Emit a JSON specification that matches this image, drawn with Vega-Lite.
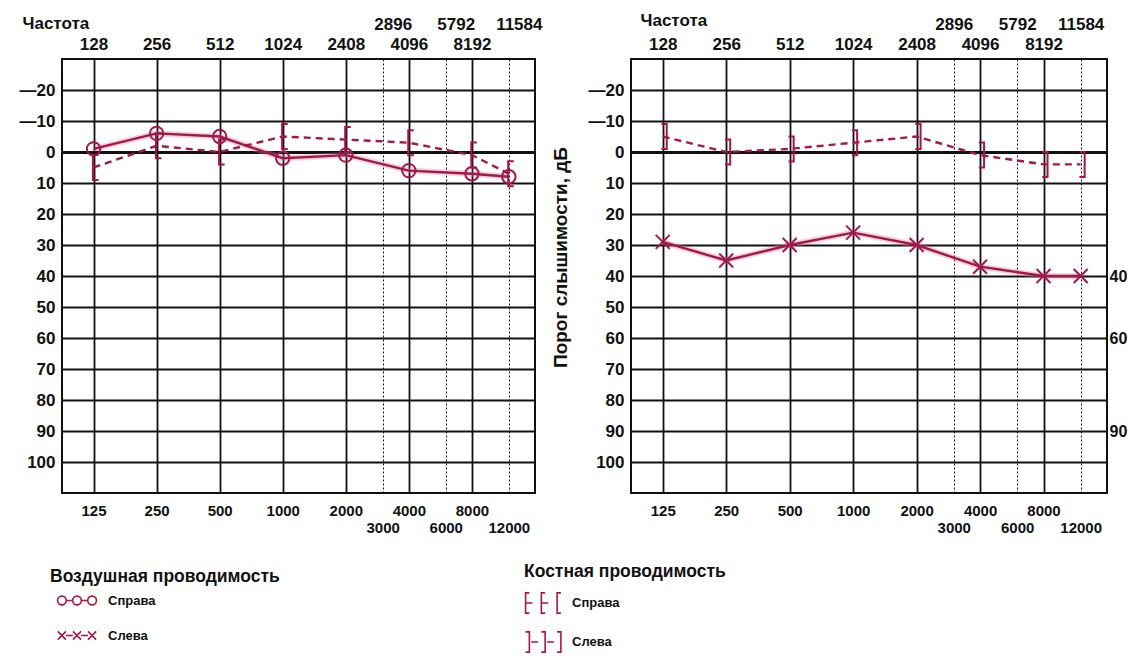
{
  "$schema": "https://vega.github.io/schema/vega-lite/v6.json",
  "description": "Аудиограмма: воздушная и костная проводимость, правое и левое ухо.",
  "background": "white",
  "padding": {"left": 18, "top": 10, "right": 0, "bottom": 0},
  "bounds": "flush",
  "spacing": 96,
  "config": {
    "view": {"stroke": "#111", "strokeWidth": 2},
    "font": "Liberation Sans",
    "axis": {"labelFont": "Liberation Sans", "labelFontWeight": "bold", "labelColor": "#111", "titleFont": "Liberation Sans", "titleColor": "#111"},
    "legend": {"titleFont": "Liberation Sans", "labelFont": "Liberation Sans", "titleColor": "#111", "labelColor": "#111", "titleLimit": 400}
  },
  "datasets": {
    "air": [
      {"side": "Справа", "freq": 125, "db": -1},
      {"side": "Справа", "freq": 250, "db": -6},
      {"side": "Справа", "freq": 500, "db": -5},
      {"side": "Справа", "freq": 1000, "db": 2},
      {"side": "Справа", "freq": 2000, "db": 1},
      {"side": "Справа", "freq": 4000, "db": 6},
      {"side": "Справа", "freq": 8000, "db": 7},
      {"side": "Справа", "freq": 12000, "db": 8},
      {"side": "Слева", "freq": 125, "db": 29},
      {"side": "Слева", "freq": 250, "db": 35},
      {"side": "Слева", "freq": 500, "db": 30},
      {"side": "Слева", "freq": 1000, "db": 26},
      {"side": "Слева", "freq": 2000, "db": 30},
      {"side": "Слева", "freq": 4000, "db": 37},
      {"side": "Слева", "freq": 8000, "db": 40},
      {"side": "Слева", "freq": 12000, "db": 40}
    ],
    "bone": [
      {"ear": "Справа", "freq": 125, "db": 5},
      {"ear": "Справа", "freq": 250, "db": -2},
      {"ear": "Справа", "freq": 500, "db": 0},
      {"ear": "Справа", "freq": 1000, "db": -5},
      {"ear": "Справа", "freq": 2000, "db": -4},
      {"ear": "Справа", "freq": 4000, "db": -3},
      {"ear": "Справа", "freq": 8000, "db": 1},
      {"ear": "Справа", "freq": 12000, "db": 7},
      {"ear": "Слева", "freq": 125, "db": -5},
      {"ear": "Слева", "freq": 250, "db": 0},
      {"ear": "Слева", "freq": 500, "db": -1},
      {"ear": "Слева", "freq": 1000, "db": -3},
      {"ear": "Слева", "freq": 2000, "db": -5},
      {"ear": "Слева", "freq": 4000, "db": 1},
      {"ear": "Слева", "freq": 8000, "db": 4},
      {"ear": "Слева", "freq": 12000, "db": 4}
    ]
  },
  "hconcat": [
    {
      "width": 473,
      "height": 434,
      "layer": [
        {
          "data": {"name": "air"},
          "transform": [{"filter": "datum.side == 'Справа'"}],
          "encoding": {
            "x": {
              "field": "freq", "type": "quantitative",
              "scale": {"type": "log", "domain": [88.39, 16000], "nice": false},
              "axis": {
                "orient": "bottom", "title": null,
                "values": [125, 250, 500, 1000, 2000, 3000, 4000, 6000, 8000, 12000],
                "format": "d", "labelOverlap": false, "labelFlush": false,
                "ticks": false, "domain": false, "labelFontSize": 15,
                "labelPadding": {"condition": {"test": "datum.value == 3000 || datum.value == 6000 || datum.value == 12000", "value": 27}, "value": 10},
                "grid": true, "gridColor": "#111",
                "gridWidth": {"condition": {"test": "datum.value == 3000 || datum.value == 6000 || datum.value == 12000", "value": 1}, "value": 1.8},
                "gridDash": {"condition": {"test": "datum.value == 3000 || datum.value == 6000 || datum.value == 12000", "value": [2, 2]}, "value": []}
              }
            },
            "y": {
              "field": "db", "type": "quantitative",
              "scale": {"domain": [-30, 110], "reverse": true, "nice": false, "zero": false},
              "axis": {
                "values": [-20, -10, 0, 10, 20, 30, 40, 50, 60, 70, 80, 90, 100],
                "title": null, "ticks": false, "domain": false, "labelFontSize": 17, "labelPadding": 7,
                "labelExpr": "datum.value < 0 ? '—' + (-datum.value) : '' + datum.value",
                "grid": true, "gridColor": "#111",
                "gridWidth": {"condition": {"test": "datum.value == 0", "value": 3}, "value": 1.8}
              }
            }
          },
          "layer": [
            {"mark": {"type": "line", "color": "#e07d9c", "strokeWidth": 6, "opacity": 0.35}},
            {"mark": {"type": "line", "color": "#a5174a", "strokeWidth": 2.4}},
            {"mark": {"type": "point", "filled": false, "color": "#a5174a", "strokeWidth": 2, "size": 180, "opacity": 1, "shape": "circle"}}
          ]
        },
        {
          "data": {"name": "bone"},
          "transform": [{"filter": "datum.ear == 'Справа'"}],
          "encoding": {
            "x": {
              "field": "freq", "type": "quantitative",
              "scale": {"type": "log", "domain": [88.39, 16000], "nice": false},
              "axis": {
                "orient": "top", "title": "Частота", "titleFontSize": 17, "titleFontWeight": "bold",
                "titleAnchor": "start", "titleAlign": "left", "titleAngle": 0, "titleBaseline": "middle",
                "titleX": -40, "titleY": -36,
                "values": [125, 250, 500, 1000, 2000, 3000, 4000, 6000, 8000, 12000],
                "labelExpr": "datum.value == 125 ? '128' : datum.value == 250 ? '256' : datum.value == 500 ? '512' : datum.value == 1000 ? '1024' : datum.value == 2000 ? '2408' : datum.value == 3000 ? '2896' : datum.value == 4000 ? '4096' : datum.value == 6000 ? '5792' : datum.value == 8000 ? '8192' : '11584'",
                "labelOverlap": false, "labelFlush": false, "ticks": false, "domain": false, "grid": false,
                "labelFontSize": 17,
                "labelPadding": {"condition": {"test": "datum.value == 3000 || datum.value == 6000 || datum.value == 12000", "value": 26}, "value": 6},
                "labelOffset": {"condition": {"test": "datum.value == 3000 || datum.value == 6000 || datum.value == 12000", "value": 10}, "value": 0}
              }
            },
            "y": {
              "field": "db", "type": "quantitative",
              "scale": {"domain": [-30, 110], "reverse": true, "nice": false, "zero": false},
              "axis": null
            }
          },
          "layer": [
            {"mark": {"type": "line", "color": "#a5174a", "strokeWidth": 2.4, "strokeDash": [7, 5]}},
            {"mark": {"type": "point", "filled": false, "color": "#a5174a", "strokeWidth": 2, "size": 625, "opacity": 1, "shape": "M0.4,-1L-0.05,-1L-0.05,1L0.4,1"}}
          ]
        },
        {
          "data": {"name": "air"},
          "mark": {"type": "point", "filled": false, "color": "#a5174a", "opacity": 0},
          "encoding": {
            "x": {"field": "freq", "type": "quantitative", "axis": null},
            "y": {"field": "db", "type": "quantitative", "axis": null},
            "shape": {
              "field": "side", "type": "nominal",
              "scale": {
                "domain": ["Справа", "Слева"],
                "range": [
                  "M-1.85,0A0.75,0.75,0,1,1,-3.35,0A0.75,0.75,0,1,1,-1.85,0M-1.85,0L-0.75,0M0.75,0A0.75,0.75,0,1,1,-0.75,0A0.75,0.75,0,1,1,0.75,0M0.75,0L1.85,0M3.35,0A0.75,0.75,0,1,1,1.85,0A0.75,0.75,0,1,1,3.35,0",
                  "M-3.3,-0.7L-1.9,0.7M-3.3,0.7L-1.9,-0.7M-1.9,0L-0.7,0M-0.7,-0.7L0.7,0.7M-0.7,0.7L0.7,-0.7M0.7,0L1.9,0M1.9,-0.7L3.3,0.7M1.9,0.7L3.3,-0.7"
                ]
              },
              "legend": {
                "title": "Воздушная проводимость", "orient": "none", "legendX": -12, "legendY": 509,
                "titleFontSize": 17.5, "titleFontWeight": "bold", "titlePadding": 8,
                "labelFontSize": 13, "labelFontWeight": "bold", "labelOffset": 24,
                "symbolSize": 135, "symbolOffset": 20, "rowPadding": 19,
                "symbolOpacity": 1, "symbolStrokeColor": "#a5174a", "symbolFillColor": "transparent", "symbolStrokeWidth": 1.6
              }
            }
          }
        },
        {
          "data": {"name": "bone"},
          "mark": {"type": "point", "filled": false, "color": "#a5174a", "opacity": 0},
          "encoding": {
            "x": {"field": "freq", "type": "quantitative", "axis": null},
            "y": {"field": "db", "type": "quantitative", "axis": null},
            "shape": {
              "field": "ear", "type": "nominal",
              "scale": {
                "domain": ["Справа", "Слева"],
                "range": [
                  "M-2.4,-1.6L-3,-1.6L-3,1.6L-2.4,1.6M-3,0L-1.9,0M0.1,-1.6L-0.5,-1.6L-0.5,1.6L0.1,1.6M-0.5,0L0.6,0M2.6,-1.6L2,-1.6L2,1.6L2.6,1.6",
                  "M-3,-1.6L-2.4,-1.6L-2.4,1.6L-3,1.6M-2.1,0L-1.0,0M-0.5,-1.6L0.1,-1.6L0.1,1.6L-0.5,1.6M0.4,0L1.5,0M2,-1.6L2.6,-1.6L2.6,1.6L2,1.6"
                ]
              },
              "legend": {
                "title": "Костная  проводимость", "orient": "none", "legendX": 462, "legendY": 504,
                "titleFontSize": 17.5, "titleFontWeight": "bold", "titlePadding": 15,
                "labelFontSize": 13, "labelFontWeight": "bold", "labelOffset": 20,
                "symbolSize": 159, "symbolOffset": 13, "rowPadding": 12,
                "symbolOpacity": 1, "symbolStrokeColor": "#a5174a", "symbolFillColor": "transparent", "symbolStrokeWidth": 1.6
              }
            }
          }
        }
      ],
      "resolve": {"axis": {"x": "independent", "y": "independent"}, "scale": {"shape": "independent"}}
    },
    {
      "width": 476,
      "height": 434,
      "layer": [
        {
          "data": {"name": "air"},
          "transform": [{"filter": "datum.side == 'Слева'"}],
          "encoding": {
            "x": {
              "field": "freq", "type": "quantitative",
              "scale": {"type": "log", "domain": [88.39, 16000], "nice": false},
              "axis": {
                "orient": "bottom", "title": null,
                "values": [125, 250, 500, 1000, 2000, 3000, 4000, 6000, 8000, 12000],
                "format": "d", "labelOverlap": false, "labelFlush": false,
                "ticks": false, "domain": false, "labelFontSize": 15,
                "labelPadding": {"condition": {"test": "datum.value == 3000 || datum.value == 6000 || datum.value == 12000", "value": 27}, "value": 10},
                "grid": true, "gridColor": "#111",
                "gridWidth": {"condition": {"test": "datum.value == 3000 || datum.value == 6000 || datum.value == 12000", "value": 1}, "value": 1.8},
                "gridDash": {"condition": {"test": "datum.value == 3000 || datum.value == 6000 || datum.value == 12000", "value": [2, 2]}, "value": []}
              }
            },
            "y": {
              "field": "db", "type": "quantitative",
              "scale": {"domain": [-30, 110], "reverse": true, "nice": false, "zero": false},
              "axis": {
                "values": [-20, -10, 0, 10, 20, 30, 40, 50, 60, 70, 80, 90, 100],
                "title": "Порог слышимости, дБ", "titleFontSize": 19, "titleFontWeight": "bold",
                "titleX": -71, "titleY": 198, "titleBaseline": "middle",
                "ticks": false, "domain": false, "labelFontSize": 17, "labelPadding": 7,
                "labelExpr": "datum.value < 0 ? '—' + (-datum.value) : '' + datum.value",
                "grid": true, "gridColor": "#111",
                "gridWidth": {"condition": {"test": "datum.value == 0", "value": 3}, "value": 1.8}
              }
            }
          },
          "layer": [
            {"mark": {"type": "line", "color": "#e07d9c", "strokeWidth": 6, "opacity": 0.35}},
            {"mark": {"type": "line", "color": "#a5174a", "strokeWidth": 2.4}},
            {"mark": {"type": "point", "filled": false, "color": "#a5174a", "strokeWidth": 2, "size": 196, "opacity": 1, "shape": "M-1,-1L1,1M-1,1L1,-1"}}
          ]
        },
        {
          "data": {"name": "bone"},
          "transform": [{"filter": "datum.ear == 'Слева'"}],
          "encoding": {
            "x": {
              "field": "freq", "type": "quantitative",
              "scale": {"type": "log", "domain": [88.39, 16000], "nice": false},
              "axis": {
                "orient": "top", "title": "Частота", "titleFontSize": 17, "titleFontWeight": "bold",
                "titleAnchor": "start", "titleAlign": "left", "titleAngle": 0, "titleBaseline": "middle",
                "titleX": 9, "titleY": -39,
                "values": [125, 250, 500, 1000, 2000, 3000, 4000, 6000, 8000, 12000],
                "labelExpr": "datum.value == 125 ? '128' : datum.value == 250 ? '256' : datum.value == 500 ? '512' : datum.value == 1000 ? '1024' : datum.value == 2000 ? '2408' : datum.value == 3000 ? '2896' : datum.value == 4000 ? '4096' : datum.value == 6000 ? '5792' : datum.value == 8000 ? '8192' : '11584'",
                "labelOverlap": false, "labelFlush": false, "ticks": false, "domain": false, "grid": false,
                "labelFontSize": 17,
                "labelPadding": {"condition": {"test": "datum.value == 3000 || datum.value == 6000 || datum.value == 12000", "value": 26}, "value": 6}
              }
            },
            "y": {
              "field": "db", "type": "quantitative",
              "scale": {"domain": [-30, 110], "reverse": true, "nice": false, "zero": false},
              "axis": {
                "orient": "right", "values": [40, 60, 90], "title": null,
                "ticks": false, "domain": false, "grid": false, "labelFontSize": 16, "labelPadding": 2
              }
            }
          },
          "layer": [
            {"mark": {"type": "line", "color": "#a5174a", "strokeWidth": 2.4, "strokeDash": [7, 5]}},
            {"mark": {"type": "point", "filled": false, "color": "#a5174a", "strokeWidth": 2, "size": 625, "opacity": 1, "shape": "M-0.1,-1L0.32,-1L0.32,1L-0.1,1"}}
          ]
        }
      ],
      "resolve": {"axis": {"x": "independent", "y": "independent"}}
    }
  ]
}
